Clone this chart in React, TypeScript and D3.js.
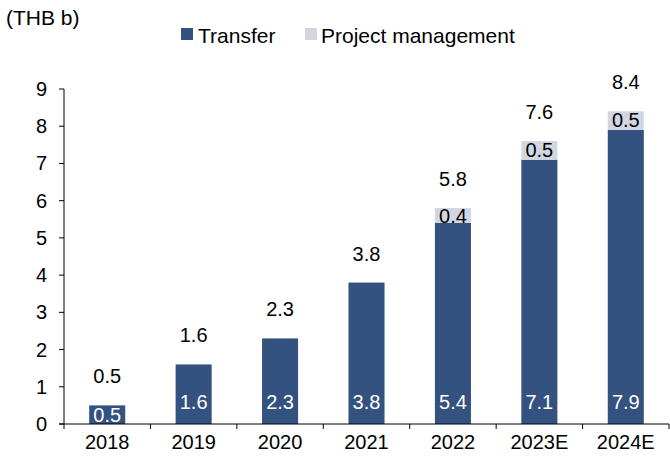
import React from "react";
import * as d3 from "d3";

const years = ["2018", "2019", "2020", "2021", "2022", "2023E", "2024E"];
const transfer = [0.5, 1.6, 2.3, 3.8, 5.4, 7.1, 7.9];
const projectMgmt = [0, 0, 0, 0, 0.4, 0.5, 0.5];
const totals = [0.5, 1.6, 2.3, 3.8, 5.8, 7.6, 8.4];
const yTicks = [0, 1, 2, 3, 4, 5, 6, 7, 8, 9];

const W = 670;
const H = 466;
const margin = { top: 89, right: 1, bottom: 42, left: 64 };
const DARK = "#34527f";
const LIGHT = "#d1d6e1";
const FONT = "'Liberation Sans', Arial, sans-serif";
const FS = 20;

const App: React.FC = () => {
  const x = d3
    .scaleBand<string>()
    .domain(years)
    .range([margin.left, W - margin.right])
    .paddingInner(0.583)
    .paddingOuter(0.2915);

  const y = d3
    .scaleLinear()
    .domain([0, 9])
    .range([H - margin.bottom, margin.top]);

  const step = x.step();
  const y0 = y(0);
  // category boundaries for x ticks
  const bounds = d3.range(years.length + 1).map((i) => margin.left + i * step);

  return (
    <svg
      width={W}
      height={H}
      style={{ position: "absolute", left: 0, top: 0, background: "#fff" }}
      fontFamily={FONT}
    >
      <text x={6} y={17} fontSize={21} dominantBaseline="central" fill="#000">
        (THB b)
      </text>

      {/* legend */}
      <g fontSize={21}>
        <rect x={181} y={28} width={12} height={12} fill={DARK} />
        <text x={198} y={35} dominantBaseline="central">Transfer</text>
        <rect x={305} y={28} width={12} height={12} fill={LIGHT} />
        <text x={321} y={35} dominantBaseline="central">Project management</text>
      </g>

      {/* bars */}
      {years.map((yr, i) => {
        const bx = x(yr)!;
        const bw = x.bandwidth();
        const tTop = y(transfer[i]);
        const pTop = y(transfer[i] + projectMgmt[i]);
        const cx = bx + bw / 2;
        return (
          <g key={yr}>
            <rect x={bx} y={tTop} width={bw} height={y0 - tTop} fill={DARK} />
            {projectMgmt[i] > 0 && (
              <rect x={bx} y={pTop} width={bw} height={tTop - pTop} fill={LIGHT} />
            )}
            <text
              x={cx}
              y={y0 - Math.min(22, (y0 - tTop) / 2)}
              textAnchor="middle"
              dominantBaseline="central"
              fontSize={FS}
              fill="#fff"
            >
              {transfer[i].toFixed(1)}
            </text>
            {projectMgmt[i] > 0 && (
              <text
                x={cx}
                y={pTop + Math.min(9, (tTop - pTop) / 2)}
                textAnchor="middle"
                dominantBaseline="central"
                fontSize={FS}
                fill="#000"
              >
                {projectMgmt[i].toFixed(1)}
              </text>
            )}
            <text
              x={cx}
              y={y(totals[i]) - 29}
              textAnchor="middle"
              dominantBaseline="central"
              fontSize={FS}
              fill="#000"
            >
              {totals[i].toFixed(1)}
            </text>
          </g>
        );
      })}

      {/* y axis */}
      <g stroke="#000" strokeWidth={1}>
        <line x1={margin.left} x2={margin.left} y1={y(9)} y2={y0} />
        {yTicks.map((t) => (
          <line key={t} x1={margin.left - 5} x2={margin.left} y1={y(t)} y2={y(t)} />
        ))}
      </g>
      {yTicks.map((t) => (
        <text
          key={t}
          x={margin.left - 17}
          y={y(t)}
          textAnchor="end"
          dominantBaseline="central"
          fontSize={FS}
        >
          {t}
        </text>
      ))}

      {/* x axis */}
      <g stroke="#000" strokeWidth={1}>
        <line x1={margin.left - 5} x2={W - margin.right} y1={y0} y2={y0} />
        {bounds.map((b, i) => (
          <line key={i} x1={b} x2={b} y1={y0} y2={y0 + 5} />
        ))}
      </g>
      {years.map((yr) => (
        <text
          key={yr}
          x={x(yr)! + x.bandwidth() / 2}
          y={y0 + 18}
          textAnchor="middle"
          dominantBaseline="central"
          fontSize={FS}
        >
          {yr}
        </text>
      ))}
    </svg>
  );
};

export default App;
